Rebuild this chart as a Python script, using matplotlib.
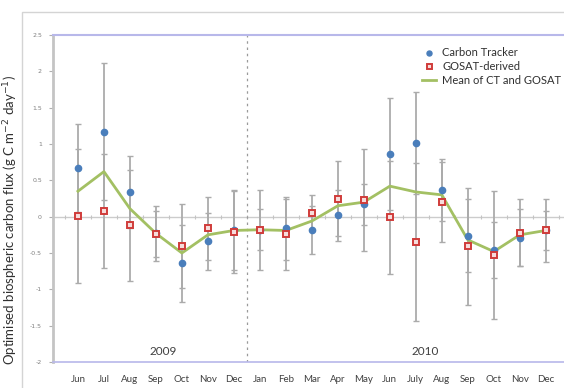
import matplotlib
matplotlib.use("Agg")
import matplotlib.pyplot as plt
import matplotlib.patches as patches
import numpy as np

# month labels (Jun 2009 - Dec 2010)
months = ["Jun", "Jul", "Aug", "Sep", "Oct", "Nov", "Dec",
          "Jan", "Feb", "Mar", "Apr", "May", "Jun", "July", "Aug", "Sep", "Oct", "Nov", "Dec"]

# Carbon Tracker flux and its uncertainty
ct = [0.67, 1.17, 0.34, -0.23, -0.64, -0.34, -0.18,
      -0.18, -0.16, -0.18, 0.02, 0.17, 0.86, 1.01, 0.37, -0.26, -0.46, -0.29, -0.19]
ct_err = [0.61, 0.94, 0.50, 0.38, 0.53, 0.39, 0.55,
          0.55, 0.43, 0.33, 0.35, 0.28, 0.77, 0.70, 0.43, 0.50, 0.38, 0.39, 0.43]

# GOSAT-derived flux and its uncertainty
gosat = [0.01, 0.08, -0.12, -0.24, -0.40, -0.16, -0.21,
         -0.18, -0.24, 0.05, 0.25, 0.23, -0.01, -0.35, 0.20, -0.41, -0.53, -0.22, -0.19]
gosat_err = [0.92, 0.78, 0.76, 0.32, 0.58, 0.43, 0.56,
             0.28, 0.49, 0.25, 0.52, 0.70, 0.78, 1.09, 0.55, 0.81, 0.88, 0.46, 0.27]

# mean of CT and GOSAT
mean_flux = [0.35, 0.62, 0.11, -0.23, -0.50, -0.25, -0.19,
             -0.18, -0.19, -0.06, 0.15, 0.20, 0.42, 0.34, 0.30, -0.32, -0.48, -0.25, -0.19]

y_ticks = [-2, -1.5, -1, -0.5, 0, 0.5, 1, 1.5, 2, 2.5]
y_tick_labels = ["-2", "-1.5", "-1", "-0.5", "0", "0.5", "1", "1.5", "2", "2.5"]

plt.rcParams['font.family'] = ['Lato', 'DejaVu Sans']

fig = plt.figure(figsize=(5.64, 3.88), dpi=100)
ax = fig.add_axes([53 / 564, 1 - 362 / 388, 1 - 53 / 564, (362 - 35) / 388])

x = np.arange(len(months))

# outer frame (top and left)
fig.add_artist(patches.Rectangle((22 / 564, -0.1), 1.0, 1.1 - 12 / 388,
                                 transform=fig.transFigure, fill=False,
                                 edgecolor='#d4d4d4', linewidth=1.0))

# zero line with category boundary ticks
ax.axhline(0, color='#cccccc', linewidth=1.0, zorder=1)
ax.plot(np.arange(-0.5, len(months)), np.zeros(len(months) + 1), linestyle='none',
        marker='|', markersize=3, markeredgewidth=0.8, color='#c4c4c4', zorder=1)

# year separator
ax.axvline(6.5, color='#9a9a9a', linestyle=(0, (2, 3)), linewidth=0.9, zorder=1)

# error bars
ax.errorbar(x, ct, yerr=ct_err, fmt='none', ecolor='#ababab', elinewidth=1.3,
            capsize=2, capthick=1.0, zorder=2)
ax.errorbar(x, gosat, yerr=gosat_err, fmt='none', ecolor='#ababab', elinewidth=1.3,
            capsize=2, capthick=1.0, zorder=2)

ax.plot(x, mean_flux, color='#a3c063', linewidth=2.0, zorder=3,
        label='Mean of CT and GOSAT')
ax.plot(x, ct, linestyle='none', marker='o', markersize=4.5, color='#4a7ebb', zorder=4,
        label='Carbon Tracker')
ax.plot(x, gosat, linestyle='none', marker='s', markersize=4.5, markerfacecolor='#f6dcdb',
        markeredgecolor='#d03c3a', markeredgewidth=1.4, zorder=5, label='GOSAT-derived')

ax.set_xlim(-0.96, 18.7)
ax.set_ylim(-2, 2.5)

ax.set_xticks(x)
ax.set_xticklabels(months, fontsize=7, color='#404040')
ax.tick_params(axis='x', length=0, pad=9)
ax.set_yticks(y_ticks)
ax.set_yticklabels(y_tick_labels, fontsize=4.5, color='#808080', family='DejaVu Sans')
ax.tick_params(axis='y', length=3, width=0.8, color='#b0b0b0', pad=5)

ax.spines['right'].set_visible(False)
ax.spines['top'].set_color('#b8b8ea')
ax.spines['top'].set_linewidth(1.5)
ax.spines['bottom'].set_color('#b8b8ea')
ax.spines['bottom'].set_linewidth(1.2)
ax.spines['left'].set_color('#c4c4c4')
ax.spines['left'].set_linewidth(2.0)

ax.text(3.27, -1.86, '2009', fontsize=8.5, color='#404040', ha='center', va='center')
ax.text(13.35, -1.86, '2010', fontsize=8.5, color='#404040', ha='center', va='center')

fig.text(11 / 564, 1 - 220 / 388,
         'Optimised biospheric carbon flux (g C m$^{-2}$ day$^{-1}$)',
         rotation=90, ha='center', va='center', fontsize=9.5, color='#303030')

handles, labels = ax.get_legend_handles_labels()
order = [1, 2, 0]
leg = ax.legend([handles[i] for i in order], [labels[i] for i in order],
                loc='upper left', bbox_to_anchor=(418 / 564, 1 - 43 / 388),
                bbox_transform=fig.transFigure, frameon=False, fontsize=8,
                handlelength=1.2, handletextpad=0.6, labelspacing=0.25,
                borderaxespad=0, markerscale=0.8)
for t in leg.get_texts():
    t.set_color('#303030')

fig.savefig('out.png', dpi=100)
